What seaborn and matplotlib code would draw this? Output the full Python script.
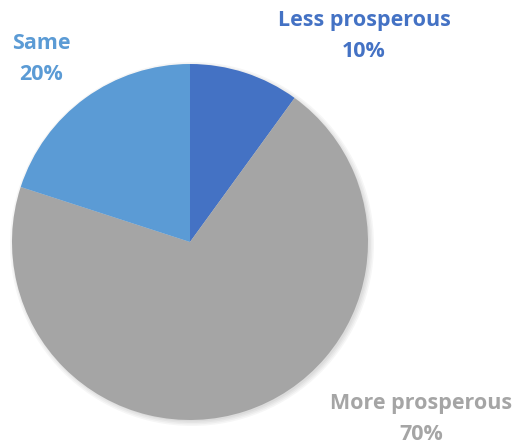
import matplotlib
matplotlib.use("Agg")
import matplotlib.pyplot as plt
import seaborn as sns
from matplotlib.patches import Circle

categories = ["Less prosperous", "More prosperous", "Same"]
shares = [10, 70, 20]
colors = ["#4472C4", "#A5A5A5", "#5B9BD5"]

sns.set_theme(style="white")
plt.rcParams["font.family"] = ["Open Sans", "DejaVu Sans"]

W, H = 524, 448
fig = plt.figure(figsize=(W / 100, H / 100), dpi=100)
ax = fig.add_axes([0, 0, 1, 1])

cx, cy, r = 190, H - 242, 178

# soft drop shadow under the pie
for i in range(4):
    ax.add_patch(Circle((cx + 2, cy - 2), r + 4 - i * 1.5, color="black",
                        alpha=0.035, lw=0, zorder=0))

ax.pie(shares, colors=colors, startangle=90, counterclock=False,
       center=(cx, cy), radius=r, frame=True,
       wedgeprops=dict(linewidth=0))
ax.set_xlim(0, W)
ax.set_ylim(0, H)
ax.set_aspect("equal")
ax.axis("off")

label_pos = {
    "Less prosperous": (364, 20),
    "More prosperous": (421, 403),
    "Same": (41, 43),
}
for name, val, col in zip(categories, shares, colors):
    x, y = label_pos[name]
    ax.text(x, H - y, name, ha="center", va="center", color=col,
            fontsize=15.5, fontweight="bold")
    ax.text(x, H - y - 31, f"{val}%", ha="center", va="center", color=col,
            fontsize=15.5, fontweight="bold")

fig.savefig("out.png", dpi=100)
